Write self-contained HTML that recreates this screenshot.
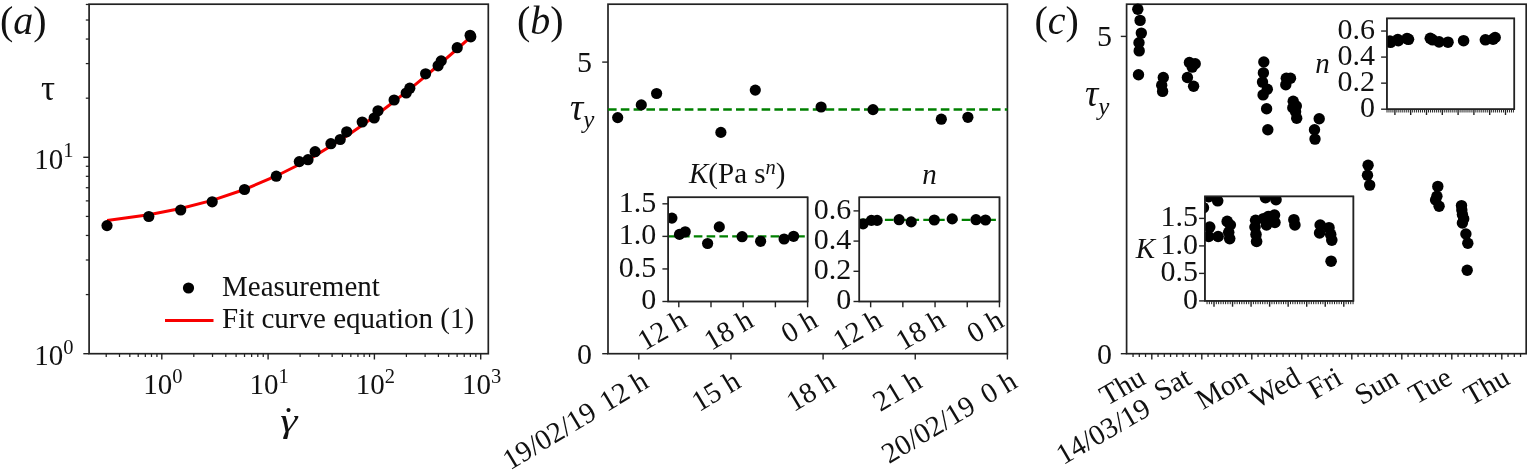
<!DOCTYPE html>
<html><head><meta charset="utf-8"><title>Figure</title>
<style>html,body{margin:0;padding:0;background:#fff}body{width:1527px;height:475px;overflow:hidden}svg{display:block}</style>
</head><body>
<svg width="1527" height="475" viewBox="0 0 1527 475" font-family='"Liberation Serif", "DejaVu Serif", serif' fill="#111">
<rect x="89.10" y="4.20" width="399.20" height="349.50" fill="none" stroke="#222222" stroke-width="1.7"/>
<line x1="106.22" y1="353.70" x2="106.22" y2="357.00" stroke="#222222" stroke-width="1.25" />
<line x1="119.50" y1="353.70" x2="119.50" y2="357.00" stroke="#222222" stroke-width="1.25" />
<line x1="129.80" y1="353.70" x2="129.80" y2="357.00" stroke="#222222" stroke-width="1.25" />
<line x1="138.22" y1="353.70" x2="138.22" y2="357.00" stroke="#222222" stroke-width="1.25" />
<line x1="145.33" y1="353.70" x2="145.33" y2="357.00" stroke="#222222" stroke-width="1.25" />
<line x1="151.50" y1="353.70" x2="151.50" y2="357.00" stroke="#222222" stroke-width="1.25" />
<line x1="156.94" y1="353.70" x2="156.94" y2="357.00" stroke="#222222" stroke-width="1.25" />
<line x1="161.80" y1="353.70" x2="161.80" y2="359.50" stroke="#222222" stroke-width="1.4" />
<line x1="193.80" y1="353.70" x2="193.80" y2="357.00" stroke="#222222" stroke-width="1.25" />
<line x1="212.52" y1="353.70" x2="212.52" y2="357.00" stroke="#222222" stroke-width="1.25" />
<line x1="225.80" y1="353.70" x2="225.80" y2="357.00" stroke="#222222" stroke-width="1.25" />
<line x1="236.10" y1="353.70" x2="236.10" y2="357.00" stroke="#222222" stroke-width="1.25" />
<line x1="244.52" y1="353.70" x2="244.52" y2="357.00" stroke="#222222" stroke-width="1.25" />
<line x1="251.63" y1="353.70" x2="251.63" y2="357.00" stroke="#222222" stroke-width="1.25" />
<line x1="257.80" y1="353.70" x2="257.80" y2="357.00" stroke="#222222" stroke-width="1.25" />
<line x1="263.24" y1="353.70" x2="263.24" y2="357.00" stroke="#222222" stroke-width="1.25" />
<line x1="268.10" y1="353.70" x2="268.10" y2="359.50" stroke="#222222" stroke-width="1.4" />
<line x1="300.10" y1="353.70" x2="300.10" y2="357.00" stroke="#222222" stroke-width="1.25" />
<line x1="318.82" y1="353.70" x2="318.82" y2="357.00" stroke="#222222" stroke-width="1.25" />
<line x1="332.10" y1="353.70" x2="332.10" y2="357.00" stroke="#222222" stroke-width="1.25" />
<line x1="342.40" y1="353.70" x2="342.40" y2="357.00" stroke="#222222" stroke-width="1.25" />
<line x1="350.82" y1="353.70" x2="350.82" y2="357.00" stroke="#222222" stroke-width="1.25" />
<line x1="357.93" y1="353.70" x2="357.93" y2="357.00" stroke="#222222" stroke-width="1.25" />
<line x1="364.10" y1="353.70" x2="364.10" y2="357.00" stroke="#222222" stroke-width="1.25" />
<line x1="369.54" y1="353.70" x2="369.54" y2="357.00" stroke="#222222" stroke-width="1.25" />
<line x1="374.40" y1="353.70" x2="374.40" y2="359.50" stroke="#222222" stroke-width="1.4" />
<line x1="406.40" y1="353.70" x2="406.40" y2="357.00" stroke="#222222" stroke-width="1.25" />
<line x1="425.12" y1="353.70" x2="425.12" y2="357.00" stroke="#222222" stroke-width="1.25" />
<line x1="438.40" y1="353.70" x2="438.40" y2="357.00" stroke="#222222" stroke-width="1.25" />
<line x1="448.70" y1="353.70" x2="448.70" y2="357.00" stroke="#222222" stroke-width="1.25" />
<line x1="457.12" y1="353.70" x2="457.12" y2="357.00" stroke="#222222" stroke-width="1.25" />
<line x1="464.23" y1="353.70" x2="464.23" y2="357.00" stroke="#222222" stroke-width="1.25" />
<line x1="470.40" y1="353.70" x2="470.40" y2="357.00" stroke="#222222" stroke-width="1.25" />
<line x1="475.84" y1="353.70" x2="475.84" y2="357.00" stroke="#222222" stroke-width="1.25" />
<line x1="480.70" y1="353.70" x2="480.70" y2="359.50" stroke="#222222" stroke-width="1.4" />
<line x1="89.10" y1="353.70" x2="83.30" y2="353.70" stroke="#222222" stroke-width="1.4" />
<line x1="89.10" y1="294.58" x2="85.80" y2="294.58" stroke="#222222" stroke-width="1.25" />
<line x1="89.10" y1="259.99" x2="85.80" y2="259.99" stroke="#222222" stroke-width="1.25" />
<line x1="89.10" y1="235.46" x2="85.80" y2="235.46" stroke="#222222" stroke-width="1.25" />
<line x1="89.10" y1="216.42" x2="85.80" y2="216.42" stroke="#222222" stroke-width="1.25" />
<line x1="89.10" y1="200.87" x2="85.80" y2="200.87" stroke="#222222" stroke-width="1.25" />
<line x1="89.10" y1="187.72" x2="85.80" y2="187.72" stroke="#222222" stroke-width="1.25" />
<line x1="89.10" y1="176.33" x2="85.80" y2="176.33" stroke="#222222" stroke-width="1.25" />
<line x1="89.10" y1="166.29" x2="85.80" y2="166.29" stroke="#222222" stroke-width="1.25" />
<line x1="89.10" y1="157.30" x2="83.30" y2="157.30" stroke="#222222" stroke-width="1.4" />
<line x1="89.10" y1="98.18" x2="85.80" y2="98.18" stroke="#222222" stroke-width="1.25" />
<line x1="89.10" y1="63.59" x2="85.80" y2="63.59" stroke="#222222" stroke-width="1.25" />
<line x1="89.10" y1="39.06" x2="85.80" y2="39.06" stroke="#222222" stroke-width="1.25" />
<line x1="89.10" y1="20.02" x2="85.80" y2="20.02" stroke="#222222" stroke-width="1.25" />
<line x1="89.10" y1="4.47" x2="85.80" y2="4.47" stroke="#222222" stroke-width="1.25" />
<text x="162.80" y="394.30" font-size="29" text-anchor="middle">10<tspan font-size="20.5" dy="-11.2">0</tspan></text>
<text x="269.10" y="394.30" font-size="29" text-anchor="middle">10<tspan font-size="20.5" dy="-11.2">1</tspan></text>
<text x="375.40" y="394.30" font-size="29" text-anchor="middle">10<tspan font-size="20.5" dy="-11.2">2</tspan></text>
<text x="481.70" y="394.30" font-size="29" text-anchor="middle">10<tspan font-size="20.5" dy="-11.2">3</tspan></text>
<text x="73.50" y="168.60" font-size="29" text-anchor="end">10<tspan font-size="20.5" dy="-11.2">1</tspan></text>
<text x="73.50" y="365.00" font-size="29" text-anchor="end">10<tspan font-size="20.5" dy="-11.2">0</tspan></text>
<polyline fill="none" stroke="#f80000" stroke-width="3" points="107.1,220.4 148.8,214.7 180.7,208.5 212.2,200.4 244.5,189.5 276.3,176.0 299.3,164.5 308.0,159.7 315.1,155.6 330.9,146.1 340.2,140.1 346.7,135.9 362.2,125.2 374.2,116.5 378.0,113.7 394.1,101.5 406.2,91.9 409.8,89.1 425.6,76.1 438.1,65.5 441.2,62.9 457.2,49.0 470.5,37.2"/>
<circle cx="107.00" cy="225.60" r="5.6" fill="#000"/>
<circle cx="148.80" cy="216.50" r="5.6" fill="#000"/>
<circle cx="180.70" cy="210.00" r="5.6" fill="#000"/>
<circle cx="212.20" cy="201.80" r="5.6" fill="#000"/>
<circle cx="244.50" cy="189.50" r="5.6" fill="#000"/>
<circle cx="276.30" cy="176.20" r="5.6" fill="#000"/>
<circle cx="299.30" cy="161.60" r="5.6" fill="#000"/>
<circle cx="308.00" cy="159.70" r="5.6" fill="#000"/>
<circle cx="315.10" cy="151.70" r="5.6" fill="#000"/>
<circle cx="330.90" cy="143.70" r="5.6" fill="#000"/>
<circle cx="340.20" cy="139.50" r="5.6" fill="#000"/>
<circle cx="346.70" cy="131.80" r="5.6" fill="#000"/>
<circle cx="362.20" cy="122.00" r="5.6" fill="#000"/>
<circle cx="374.20" cy="118.00" r="5.6" fill="#000"/>
<circle cx="378.00" cy="110.80" r="5.6" fill="#000"/>
<circle cx="394.10" cy="100.00" r="5.6" fill="#000"/>
<circle cx="406.20" cy="93.00" r="5.6" fill="#000"/>
<circle cx="409.80" cy="88.20" r="5.6" fill="#000"/>
<circle cx="425.60" cy="73.80" r="5.6" fill="#000"/>
<circle cx="438.10" cy="65.80" r="5.6" fill="#000"/>
<circle cx="441.20" cy="60.90" r="5.6" fill="#000"/>
<circle cx="457.20" cy="47.70" r="5.6" fill="#000"/>
<circle cx="470.10" cy="35.30" r="5.6" fill="#000"/>
<circle cx="470.80" cy="36.80" r="5.6" fill="#000"/>
<text x="0.00" y="33.50" font-size="40" text-anchor="start" >(<tspan font-style="italic">a</tspan>)</text>
<text x="48.00" y="100.00" font-size="35" text-anchor="middle" >τ</text>
<text transform="translate(288.7 431.5) scale(1.28 1)" x="0" y="0" font-size="34" text-anchor="middle" font-style="italic">γ</text>
<text x="288.60" y="412.00" font-size="34" text-anchor="middle" >.</text>
<circle cx="188.50" cy="288.00" r="5.6" fill="#000"/>
<line x1="165.00" y1="320.50" x2="213.50" y2="320.50" stroke="#f80000" stroke-width="3" />
<text x="222.00" y="295.60" font-size="29" text-anchor="start" >Measurement</text>
<text x="222.00" y="328.00" font-size="29" text-anchor="start" >Fit curve equation (1)</text>
<rect x="608.00" y="4.20" width="399.40" height="349.50" fill="none" stroke="#222222" stroke-width="1.7"/>
<line x1="638.80" y1="353.70" x2="638.80" y2="359.50" stroke="#222222" stroke-width="1.4" />
<text x="650.30" y="386.20" font-size="29" text-anchor="end" transform="rotate(-31 650.30 386.20)" >19/02/19 <tspan dx="2.5">12 h</tspan></text>
<line x1="730.95" y1="353.70" x2="730.95" y2="359.50" stroke="#222222" stroke-width="1.4" />
<text x="742.45" y="386.20" font-size="29" text-anchor="end" transform="rotate(-31 742.45 386.20)" >15 h</text>
<line x1="823.10" y1="353.70" x2="823.10" y2="359.50" stroke="#222222" stroke-width="1.4" />
<text x="837.30" y="386.20" font-size="29" text-anchor="end" transform="rotate(-31 837.30 386.20)" >18 h</text>
<line x1="915.25" y1="353.70" x2="915.25" y2="359.50" stroke="#222222" stroke-width="1.4" />
<text x="923.75" y="386.20" font-size="29" text-anchor="end" transform="rotate(-31 923.75 386.20)" >21 h</text>
<line x1="1007.40" y1="353.70" x2="1007.40" y2="359.50" stroke="#222222" stroke-width="1.4" />
<text x="1018.90" y="386.20" font-size="29" text-anchor="end" transform="rotate(-31 1018.90 386.20)" >20/02/19 <tspan dx="4.8">0 h</tspan></text>
<line x1="608.00" y1="353.70" x2="602.20" y2="353.70" stroke="#222222" stroke-width="1.4" />
<text x="592.00" y="363.60" font-size="30" text-anchor="end" >0</text>
<line x1="608.00" y1="62.10" x2="602.20" y2="62.10" stroke="#222222" stroke-width="1.4" />
<text x="592.00" y="72.00" font-size="30" text-anchor="end" >5</text>
<line x1="608.00" y1="109.50" x2="1007.40" y2="109.50" stroke="#008000" stroke-width="2.45" stroke-dasharray="8.6 4.2"/>
<circle cx="617.70" cy="117.60" r="5.6" fill="#000"/>
<circle cx="641.30" cy="104.90" r="5.6" fill="#000"/>
<circle cx="656.60" cy="93.50" r="5.6" fill="#000"/>
<circle cx="720.90" cy="132.40" r="5.6" fill="#000"/>
<circle cx="755.30" cy="90.10" r="5.6" fill="#000"/>
<circle cx="821.10" cy="107.00" r="5.6" fill="#000"/>
<circle cx="873.00" cy="109.60" r="5.6" fill="#000"/>
<circle cx="941.30" cy="119.20" r="5.6" fill="#000"/>
<circle cx="967.90" cy="117.30" r="5.6" fill="#000"/>
<text x="517.00" y="33.50" font-size="40" text-anchor="start" >(<tspan font-style="italic">b</tspan>)</text>
<text x="570" y="119.5" font-size="37" font-style="italic">τ<tspan font-size="25" dy="8.5">y</tspan></text>
<rect x="668.20" y="197.30" width="139.40" height="104.20" fill="#fff" stroke="#222222" stroke-width="1.5"/>
<line x1="668.20" y1="301.50" x2="662.40" y2="301.50" stroke="#222222" stroke-width="1.4" />
<text x="656.20" y="309.30" font-size="30" text-anchor="end" >0</text>
<line x1="668.20" y1="268.94" x2="662.40" y2="268.94" stroke="#222222" stroke-width="1.4" />
<text x="656.20" y="276.74" font-size="30" text-anchor="end" >0.5</text>
<line x1="668.20" y1="236.38" x2="662.40" y2="236.38" stroke="#222222" stroke-width="1.4" />
<text x="656.20" y="244.18" font-size="30" text-anchor="end" >1.0</text>
<line x1="668.20" y1="203.81" x2="662.40" y2="203.81" stroke="#222222" stroke-width="1.4" />
<text x="656.20" y="211.61" font-size="30" text-anchor="end" >1.5</text>
<line x1="678.80" y1="301.50" x2="678.80" y2="307.30" stroke="#222222" stroke-width="1.4" />
<text x="688.80" y="325.50" font-size="29" text-anchor="end" transform="rotate(-30 688.80 325.50)" >12 h</text>
<line x1="711.00" y1="301.50" x2="711.00" y2="307.30" stroke="#222222" stroke-width="1.4" />
<line x1="743.20" y1="301.50" x2="743.20" y2="307.30" stroke="#222222" stroke-width="1.4" />
<text x="755.20" y="325.50" font-size="29" text-anchor="end" transform="rotate(-30 755.20 325.50)" >18 h</text>
<line x1="775.40" y1="301.50" x2="775.40" y2="307.30" stroke="#222222" stroke-width="1.4" />
<line x1="807.60" y1="301.50" x2="807.60" y2="307.30" stroke="#222222" stroke-width="1.4" />
<text x="819.60" y="325.50" font-size="29" text-anchor="end" transform="rotate(-30 819.60 325.50)" >0 h</text>
<line x1="668.20" y1="236.38" x2="807.60" y2="236.38" stroke="#008000" stroke-width="2.3" stroke-dasharray="8.6 4.2"/>
<clipPath id="cp668"><rect x="668.2" y="197.3" width="139.39999999999998" height="104.19999999999999"/></clipPath>
<g clip-path="url(#cp668)">
<circle cx="671.90" cy="218.10" r="5.6" fill="#000"/>
<circle cx="679.50" cy="234.40" r="5.6" fill="#000"/>
<circle cx="685.20" cy="231.80" r="5.6" fill="#000"/>
<circle cx="707.60" cy="243.50" r="5.6" fill="#000"/>
<circle cx="719.30" cy="226.90" r="5.6" fill="#000"/>
<circle cx="742.10" cy="236.70" r="5.6" fill="#000"/>
<circle cx="760.60" cy="241.30" r="5.6" fill="#000"/>
<circle cx="784.10" cy="239.00" r="5.6" fill="#000"/>
<circle cx="793.60" cy="236.30" r="5.6" fill="#000"/>
</g>
<rect x="668.20" y="197.30" width="139.40" height="104.20" fill="none" stroke="#222222" stroke-width="1.5"/>
<text x="689" y="183" font-size="29"><tspan font-style="italic">K</tspan>(Pa s<tspan font-size="20.5" dy="-9.5" font-style="italic">n</tspan><tspan dy="9.5">)</tspan></text>
<rect x="859.30" y="197.30" width="140.20" height="104.20" fill="#fff" stroke="#222222" stroke-width="1.5"/>
<line x1="859.30" y1="301.50" x2="853.50" y2="301.50" stroke="#222222" stroke-width="1.4" />
<text x="851.30" y="309.30" font-size="30" text-anchor="end" >0</text>
<line x1="859.30" y1="271.30" x2="853.50" y2="271.30" stroke="#222222" stroke-width="1.4" />
<text x="851.30" y="279.10" font-size="30" text-anchor="end" >0.2</text>
<line x1="859.30" y1="241.09" x2="853.50" y2="241.09" stroke="#222222" stroke-width="1.4" />
<text x="851.30" y="248.89" font-size="30" text-anchor="end" >0.4</text>
<line x1="859.30" y1="210.89" x2="853.50" y2="210.89" stroke="#222222" stroke-width="1.4" />
<text x="851.30" y="218.69" font-size="30" text-anchor="end" >0.6</text>
<line x1="870.65" y1="301.50" x2="870.65" y2="307.30" stroke="#222222" stroke-width="1.4" />
<text x="884.15" y="325.50" font-size="29" text-anchor="end" transform="rotate(-30 884.15 325.50)" >12 h</text>
<line x1="902.85" y1="301.50" x2="902.85" y2="307.30" stroke="#222222" stroke-width="1.4" />
<line x1="935.05" y1="301.50" x2="935.05" y2="307.30" stroke="#222222" stroke-width="1.4" />
<text x="947.05" y="325.50" font-size="29" text-anchor="end" transform="rotate(-30 947.05 325.50)" >18 h</text>
<line x1="967.25" y1="301.50" x2="967.25" y2="307.30" stroke="#222222" stroke-width="1.4" />
<line x1="999.45" y1="301.50" x2="999.45" y2="307.30" stroke="#222222" stroke-width="1.4" />
<text x="1005.45" y="325.50" font-size="29" text-anchor="end" transform="rotate(-30 1005.45 325.50)" >0 h</text>
<line x1="859.30" y1="219.95" x2="999.50" y2="219.95" stroke="#008000" stroke-width="2.3" stroke-dasharray="8.6 4.2"/>
<clipPath id="cp859"><rect x="859.3" y="197.3" width="140.20000000000005" height="104.19999999999999"/></clipPath>
<g clip-path="url(#cp859)">
<circle cx="863.10" cy="223.80" r="5.6" fill="#000"/>
<circle cx="871.40" cy="220.40" r="5.6" fill="#000"/>
<circle cx="877.10" cy="220.40" r="5.6" fill="#000"/>
<circle cx="899.10" cy="219.70" r="5.6" fill="#000"/>
<circle cx="911.20" cy="221.90" r="5.6" fill="#000"/>
<circle cx="934.30" cy="220.00" r="5.6" fill="#000"/>
<circle cx="952.20" cy="218.90" r="5.6" fill="#000"/>
<circle cx="976.00" cy="219.70" r="5.6" fill="#000"/>
<circle cx="985.50" cy="220.00" r="5.6" fill="#000"/>
</g>
<rect x="859.30" y="197.30" width="140.20" height="104.20" fill="none" stroke="#222222" stroke-width="1.5"/>
<text x="929.40" y="184.00" font-size="29" text-anchor="middle" font-style="italic" >n</text>
<rect x="1126.60" y="4.20" width="399.60" height="349.50" fill="none" stroke="#222222" stroke-width="1.7"/>
<line x1="1126.60" y1="353.70" x2="1120.80" y2="353.70" stroke="#222222" stroke-width="1.4" />
<text x="1112.10" y="363.60" font-size="30" text-anchor="end" >0</text>
<line x1="1126.60" y1="36.40" x2="1120.80" y2="36.40" stroke="#222222" stroke-width="1.4" />
<text x="1112.10" y="46.30" font-size="30" text-anchor="end" >5</text>
<line x1="1133.05" y1="353.70" x2="1133.05" y2="357.00" stroke="#222222" stroke-width="1.25" />
<line x1="1139.30" y1="353.70" x2="1139.30" y2="357.00" stroke="#222222" stroke-width="1.25" />
<line x1="1145.55" y1="353.70" x2="1145.55" y2="357.00" stroke="#222222" stroke-width="1.25" />
<line x1="1151.80" y1="353.70" x2="1151.80" y2="359.50" stroke="#222222" stroke-width="1.4" />
<line x1="1158.05" y1="353.70" x2="1158.05" y2="357.00" stroke="#222222" stroke-width="1.25" />
<line x1="1164.30" y1="353.70" x2="1164.30" y2="357.00" stroke="#222222" stroke-width="1.25" />
<line x1="1170.55" y1="353.70" x2="1170.55" y2="357.00" stroke="#222222" stroke-width="1.25" />
<line x1="1176.80" y1="353.70" x2="1176.80" y2="357.00" stroke="#222222" stroke-width="1.25" />
<line x1="1183.05" y1="353.70" x2="1183.05" y2="357.00" stroke="#222222" stroke-width="1.25" />
<line x1="1189.30" y1="353.70" x2="1189.30" y2="357.00" stroke="#222222" stroke-width="1.25" />
<line x1="1195.55" y1="353.70" x2="1195.55" y2="357.00" stroke="#222222" stroke-width="1.25" />
<line x1="1201.80" y1="353.70" x2="1201.80" y2="359.50" stroke="#222222" stroke-width="1.4" />
<line x1="1208.05" y1="353.70" x2="1208.05" y2="357.00" stroke="#222222" stroke-width="1.25" />
<line x1="1214.30" y1="353.70" x2="1214.30" y2="357.00" stroke="#222222" stroke-width="1.25" />
<line x1="1220.55" y1="353.70" x2="1220.55" y2="357.00" stroke="#222222" stroke-width="1.25" />
<line x1="1226.80" y1="353.70" x2="1226.80" y2="357.00" stroke="#222222" stroke-width="1.25" />
<line x1="1233.05" y1="353.70" x2="1233.05" y2="357.00" stroke="#222222" stroke-width="1.25" />
<line x1="1239.30" y1="353.70" x2="1239.30" y2="357.00" stroke="#222222" stroke-width="1.25" />
<line x1="1245.55" y1="353.70" x2="1245.55" y2="357.00" stroke="#222222" stroke-width="1.25" />
<line x1="1251.80" y1="353.70" x2="1251.80" y2="359.50" stroke="#222222" stroke-width="1.4" />
<line x1="1258.05" y1="353.70" x2="1258.05" y2="357.00" stroke="#222222" stroke-width="1.25" />
<line x1="1264.30" y1="353.70" x2="1264.30" y2="357.00" stroke="#222222" stroke-width="1.25" />
<line x1="1270.55" y1="353.70" x2="1270.55" y2="357.00" stroke="#222222" stroke-width="1.25" />
<line x1="1276.80" y1="353.70" x2="1276.80" y2="357.00" stroke="#222222" stroke-width="1.25" />
<line x1="1283.05" y1="353.70" x2="1283.05" y2="357.00" stroke="#222222" stroke-width="1.25" />
<line x1="1289.30" y1="353.70" x2="1289.30" y2="357.00" stroke="#222222" stroke-width="1.25" />
<line x1="1295.55" y1="353.70" x2="1295.55" y2="357.00" stroke="#222222" stroke-width="1.25" />
<line x1="1301.80" y1="353.70" x2="1301.80" y2="359.50" stroke="#222222" stroke-width="1.4" />
<line x1="1308.05" y1="353.70" x2="1308.05" y2="357.00" stroke="#222222" stroke-width="1.25" />
<line x1="1314.30" y1="353.70" x2="1314.30" y2="357.00" stroke="#222222" stroke-width="1.25" />
<line x1="1320.55" y1="353.70" x2="1320.55" y2="357.00" stroke="#222222" stroke-width="1.25" />
<line x1="1326.80" y1="353.70" x2="1326.80" y2="357.00" stroke="#222222" stroke-width="1.25" />
<line x1="1333.05" y1="353.70" x2="1333.05" y2="357.00" stroke="#222222" stroke-width="1.25" />
<line x1="1339.30" y1="353.70" x2="1339.30" y2="357.00" stroke="#222222" stroke-width="1.25" />
<line x1="1345.55" y1="353.70" x2="1345.55" y2="357.00" stroke="#222222" stroke-width="1.25" />
<line x1="1351.80" y1="353.70" x2="1351.80" y2="359.50" stroke="#222222" stroke-width="1.4" />
<line x1="1358.05" y1="353.70" x2="1358.05" y2="357.00" stroke="#222222" stroke-width="1.25" />
<line x1="1364.30" y1="353.70" x2="1364.30" y2="357.00" stroke="#222222" stroke-width="1.25" />
<line x1="1370.55" y1="353.70" x2="1370.55" y2="357.00" stroke="#222222" stroke-width="1.25" />
<line x1="1376.80" y1="353.70" x2="1376.80" y2="357.00" stroke="#222222" stroke-width="1.25" />
<line x1="1383.05" y1="353.70" x2="1383.05" y2="357.00" stroke="#222222" stroke-width="1.25" />
<line x1="1389.30" y1="353.70" x2="1389.30" y2="357.00" stroke="#222222" stroke-width="1.25" />
<line x1="1395.55" y1="353.70" x2="1395.55" y2="357.00" stroke="#222222" stroke-width="1.25" />
<line x1="1401.80" y1="353.70" x2="1401.80" y2="359.50" stroke="#222222" stroke-width="1.4" />
<line x1="1408.05" y1="353.70" x2="1408.05" y2="357.00" stroke="#222222" stroke-width="1.25" />
<line x1="1414.30" y1="353.70" x2="1414.30" y2="357.00" stroke="#222222" stroke-width="1.25" />
<line x1="1420.55" y1="353.70" x2="1420.55" y2="357.00" stroke="#222222" stroke-width="1.25" />
<line x1="1426.80" y1="353.70" x2="1426.80" y2="357.00" stroke="#222222" stroke-width="1.25" />
<line x1="1433.05" y1="353.70" x2="1433.05" y2="357.00" stroke="#222222" stroke-width="1.25" />
<line x1="1439.30" y1="353.70" x2="1439.30" y2="357.00" stroke="#222222" stroke-width="1.25" />
<line x1="1445.55" y1="353.70" x2="1445.55" y2="357.00" stroke="#222222" stroke-width="1.25" />
<line x1="1451.80" y1="353.70" x2="1451.80" y2="359.50" stroke="#222222" stroke-width="1.4" />
<line x1="1458.05" y1="353.70" x2="1458.05" y2="357.00" stroke="#222222" stroke-width="1.25" />
<line x1="1464.30" y1="353.70" x2="1464.30" y2="357.00" stroke="#222222" stroke-width="1.25" />
<line x1="1470.55" y1="353.70" x2="1470.55" y2="357.00" stroke="#222222" stroke-width="1.25" />
<line x1="1476.80" y1="353.70" x2="1476.80" y2="357.00" stroke="#222222" stroke-width="1.25" />
<line x1="1483.05" y1="353.70" x2="1483.05" y2="357.00" stroke="#222222" stroke-width="1.25" />
<line x1="1489.30" y1="353.70" x2="1489.30" y2="357.00" stroke="#222222" stroke-width="1.25" />
<line x1="1495.55" y1="353.70" x2="1495.55" y2="357.00" stroke="#222222" stroke-width="1.25" />
<line x1="1501.80" y1="353.70" x2="1501.80" y2="359.50" stroke="#222222" stroke-width="1.4" />
<line x1="1508.05" y1="353.70" x2="1508.05" y2="357.00" stroke="#222222" stroke-width="1.25" />
<line x1="1514.30" y1="353.70" x2="1514.30" y2="357.00" stroke="#222222" stroke-width="1.25" />
<line x1="1520.55" y1="353.70" x2="1520.55" y2="357.00" stroke="#222222" stroke-width="1.25" />
<text x="1127.10" y="394.58" font-size="29" text-anchor="middle" transform="rotate(-30 1127.10 394.58)" >Thu</text>
<text x="1177.10" y="392.16" font-size="29" text-anchor="middle" transform="rotate(-30 1177.10 392.16)" >Sat</text>
<text x="1226.60" y="396.59" font-size="29" text-anchor="middle" transform="rotate(-30 1226.60 396.59)" >Mon</text>
<text x="1279.80" y="396.00" font-size="29" text-anchor="middle" transform="rotate(-30 1279.80 396.00)" >Wed</text>
<text x="1329.40" y="391.36" font-size="29" text-anchor="middle" transform="rotate(-30 1329.40 391.36)" >Fri</text>
<text x="1381.20" y="394.18" font-size="29" text-anchor="middle" transform="rotate(-30 1381.20 394.18)" >Sun</text>
<text x="1434.90" y="393.92" font-size="29" text-anchor="middle" transform="rotate(-30 1434.90 393.92)" >Tue</text>
<text x="1491.30" y="394.58" font-size="29" text-anchor="middle" transform="rotate(-30 1491.30 394.58)" >Thu</text>
<text x="1152.50" y="413.70" font-size="29" text-anchor="end" transform="rotate(-30 1152.50 413.70)" >14/03/19</text>
<text x="1034.50" y="33.50" font-size="40" text-anchor="start" >(<tspan font-style="italic">c</tspan>)</text>
<text x="1085" y="106" font-size="37" font-style="italic">τ<tspan font-size="25" dy="8.5">y</tspan></text>
<circle cx="1137.80" cy="9.30" r="5.7" fill="#000"/>
<circle cx="1140.10" cy="20.40" r="5.7" fill="#000"/>
<circle cx="1141.30" cy="33.10" r="5.7" fill="#000"/>
<circle cx="1139.00" cy="42.80" r="5.7" fill="#000"/>
<circle cx="1139.20" cy="50.90" r="5.7" fill="#000"/>
<circle cx="1138.50" cy="74.80" r="5.7" fill="#000"/>
<circle cx="1163.30" cy="77.50" r="5.7" fill="#000"/>
<circle cx="1161.70" cy="85.20" r="5.7" fill="#000"/>
<circle cx="1162.60" cy="91.40" r="5.7" fill="#000"/>
<circle cx="1189.40" cy="62.50" r="5.7" fill="#000"/>
<circle cx="1195.20" cy="63.70" r="5.7" fill="#000"/>
<circle cx="1192.20" cy="67.10" r="5.7" fill="#000"/>
<circle cx="1187.40" cy="77.50" r="5.7" fill="#000"/>
<circle cx="1193.60" cy="86.30" r="5.7" fill="#000"/>
<circle cx="1263.80" cy="62.00" r="5.7" fill="#000"/>
<circle cx="1263.40" cy="72.90" r="5.7" fill="#000"/>
<circle cx="1262.50" cy="82.10" r="5.7" fill="#000"/>
<circle cx="1267.30" cy="89.30" r="5.7" fill="#000"/>
<circle cx="1263.10" cy="94.90" r="5.7" fill="#000"/>
<circle cx="1266.60" cy="108.80" r="5.7" fill="#000"/>
<circle cx="1267.80" cy="129.80" r="5.7" fill="#000"/>
<circle cx="1286.30" cy="78.20" r="5.7" fill="#000"/>
<circle cx="1290.50" cy="78.20" r="5.7" fill="#000"/>
<circle cx="1285.80" cy="84.70" r="5.7" fill="#000"/>
<circle cx="1293.20" cy="101.30" r="5.7" fill="#000"/>
<circle cx="1296.30" cy="106.00" r="5.7" fill="#000"/>
<circle cx="1292.80" cy="107.80" r="5.7" fill="#000"/>
<circle cx="1295.60" cy="111.80" r="5.7" fill="#000"/>
<circle cx="1296.70" cy="118.20" r="5.7" fill="#000"/>
<circle cx="1319.20" cy="118.70" r="5.7" fill="#000"/>
<circle cx="1314.50" cy="129.80" r="5.7" fill="#000"/>
<circle cx="1315.00" cy="139.10" r="5.7" fill="#000"/>
<circle cx="1368.10" cy="165.20" r="5.7" fill="#000"/>
<circle cx="1367.50" cy="175.30" r="5.7" fill="#000"/>
<circle cx="1369.70" cy="185.10" r="5.7" fill="#000"/>
<circle cx="1437.80" cy="186.40" r="5.7" fill="#000"/>
<circle cx="1436.90" cy="196.20" r="5.7" fill="#000"/>
<circle cx="1435.60" cy="200.00" r="5.7" fill="#000"/>
<circle cx="1439.10" cy="206.30" r="5.7" fill="#000"/>
<circle cx="1461.50" cy="205.60" r="5.7" fill="#000"/>
<circle cx="1461.80" cy="210.10" r="5.7" fill="#000"/>
<circle cx="1462.40" cy="214.50" r="5.7" fill="#000"/>
<circle cx="1463.70" cy="218.90" r="5.7" fill="#000"/>
<circle cx="1462.40" cy="223.00" r="5.7" fill="#000"/>
<circle cx="1465.90" cy="234.00" r="5.7" fill="#000"/>
<circle cx="1467.80" cy="243.20" r="5.7" fill="#000"/>
<circle cx="1467.20" cy="270.30" r="5.7" fill="#000"/>
<rect x="1386.90" y="18.40" width="127.40" height="90.80" fill="#fff" stroke="#222222" stroke-width="1.5"/>
<clipPath id="cp1386"><rect x="1386.9" y="18.4" width="127.39999999999986" height="90.80000000000001"/></clipPath>
<line x1="1386.90" y1="109.20" x2="1381.10" y2="109.20" stroke="#222222" stroke-width="1.4" />
<text x="1374.90" y="116.80" font-size="30" text-anchor="end" >0</text>
<line x1="1386.90" y1="83.15" x2="1381.10" y2="83.15" stroke="#222222" stroke-width="1.4" />
<text x="1374.90" y="90.75" font-size="30" text-anchor="end" >0.2</text>
<line x1="1386.90" y1="57.09" x2="1381.10" y2="57.09" stroke="#222222" stroke-width="1.4" />
<text x="1374.90" y="64.69" font-size="30" text-anchor="end" >0.4</text>
<line x1="1386.90" y1="31.04" x2="1381.10" y2="31.04" stroke="#222222" stroke-width="1.4" />
<text x="1374.90" y="38.64" font-size="30" text-anchor="end" >0.6</text>
<line x1="1387.00" y1="109.20" x2="1387.00" y2="112.50" stroke="#222222" stroke-width="1" />
<line x1="1388.98" y1="109.20" x2="1388.98" y2="112.50" stroke="#222222" stroke-width="1" />
<line x1="1390.95" y1="109.20" x2="1390.95" y2="112.50" stroke="#222222" stroke-width="1" />
<line x1="1392.93" y1="109.20" x2="1392.93" y2="112.50" stroke="#222222" stroke-width="1" />
<line x1="1394.90" y1="109.20" x2="1394.90" y2="115.00" stroke="#222222" stroke-width="1.4" />
<line x1="1396.88" y1="109.20" x2="1396.88" y2="112.50" stroke="#222222" stroke-width="1" />
<line x1="1398.85" y1="109.20" x2="1398.85" y2="112.50" stroke="#222222" stroke-width="1" />
<line x1="1400.83" y1="109.20" x2="1400.83" y2="112.50" stroke="#222222" stroke-width="1" />
<line x1="1402.80" y1="109.20" x2="1402.80" y2="112.50" stroke="#222222" stroke-width="1" />
<line x1="1404.78" y1="109.20" x2="1404.78" y2="112.50" stroke="#222222" stroke-width="1" />
<line x1="1406.75" y1="109.20" x2="1406.75" y2="112.50" stroke="#222222" stroke-width="1" />
<line x1="1408.73" y1="109.20" x2="1408.73" y2="112.50" stroke="#222222" stroke-width="1" />
<line x1="1410.70" y1="109.20" x2="1410.70" y2="115.00" stroke="#222222" stroke-width="1.4" />
<line x1="1412.68" y1="109.20" x2="1412.68" y2="112.50" stroke="#222222" stroke-width="1" />
<line x1="1414.65" y1="109.20" x2="1414.65" y2="112.50" stroke="#222222" stroke-width="1" />
<line x1="1416.62" y1="109.20" x2="1416.62" y2="112.50" stroke="#222222" stroke-width="1" />
<line x1="1418.60" y1="109.20" x2="1418.60" y2="112.50" stroke="#222222" stroke-width="1" />
<line x1="1420.58" y1="109.20" x2="1420.58" y2="112.50" stroke="#222222" stroke-width="1" />
<line x1="1422.55" y1="109.20" x2="1422.55" y2="112.50" stroke="#222222" stroke-width="1" />
<line x1="1424.53" y1="109.20" x2="1424.53" y2="112.50" stroke="#222222" stroke-width="1" />
<line x1="1426.50" y1="109.20" x2="1426.50" y2="115.00" stroke="#222222" stroke-width="1.4" />
<line x1="1428.48" y1="109.20" x2="1428.48" y2="112.50" stroke="#222222" stroke-width="1" />
<line x1="1430.45" y1="109.20" x2="1430.45" y2="112.50" stroke="#222222" stroke-width="1" />
<line x1="1432.43" y1="109.20" x2="1432.43" y2="112.50" stroke="#222222" stroke-width="1" />
<line x1="1434.40" y1="109.20" x2="1434.40" y2="112.50" stroke="#222222" stroke-width="1" />
<line x1="1436.38" y1="109.20" x2="1436.38" y2="112.50" stroke="#222222" stroke-width="1" />
<line x1="1438.35" y1="109.20" x2="1438.35" y2="112.50" stroke="#222222" stroke-width="1" />
<line x1="1440.33" y1="109.20" x2="1440.33" y2="112.50" stroke="#222222" stroke-width="1" />
<line x1="1442.30" y1="109.20" x2="1442.30" y2="115.00" stroke="#222222" stroke-width="1.4" />
<line x1="1444.28" y1="109.20" x2="1444.28" y2="112.50" stroke="#222222" stroke-width="1" />
<line x1="1446.25" y1="109.20" x2="1446.25" y2="112.50" stroke="#222222" stroke-width="1" />
<line x1="1448.23" y1="109.20" x2="1448.23" y2="112.50" stroke="#222222" stroke-width="1" />
<line x1="1450.20" y1="109.20" x2="1450.20" y2="112.50" stroke="#222222" stroke-width="1" />
<line x1="1452.18" y1="109.20" x2="1452.18" y2="112.50" stroke="#222222" stroke-width="1" />
<line x1="1454.15" y1="109.20" x2="1454.15" y2="112.50" stroke="#222222" stroke-width="1" />
<line x1="1456.12" y1="109.20" x2="1456.12" y2="112.50" stroke="#222222" stroke-width="1" />
<line x1="1458.10" y1="109.20" x2="1458.10" y2="115.00" stroke="#222222" stroke-width="1.4" />
<line x1="1460.08" y1="109.20" x2="1460.08" y2="112.50" stroke="#222222" stroke-width="1" />
<line x1="1462.05" y1="109.20" x2="1462.05" y2="112.50" stroke="#222222" stroke-width="1" />
<line x1="1464.03" y1="109.20" x2="1464.03" y2="112.50" stroke="#222222" stroke-width="1" />
<line x1="1466.00" y1="109.20" x2="1466.00" y2="112.50" stroke="#222222" stroke-width="1" />
<line x1="1467.98" y1="109.20" x2="1467.98" y2="112.50" stroke="#222222" stroke-width="1" />
<line x1="1469.95" y1="109.20" x2="1469.95" y2="112.50" stroke="#222222" stroke-width="1" />
<line x1="1471.93" y1="109.20" x2="1471.93" y2="112.50" stroke="#222222" stroke-width="1" />
<line x1="1473.90" y1="109.20" x2="1473.90" y2="115.00" stroke="#222222" stroke-width="1.4" />
<line x1="1475.88" y1="109.20" x2="1475.88" y2="112.50" stroke="#222222" stroke-width="1" />
<line x1="1477.85" y1="109.20" x2="1477.85" y2="112.50" stroke="#222222" stroke-width="1" />
<line x1="1479.83" y1="109.20" x2="1479.83" y2="112.50" stroke="#222222" stroke-width="1" />
<line x1="1481.80" y1="109.20" x2="1481.80" y2="112.50" stroke="#222222" stroke-width="1" />
<line x1="1483.78" y1="109.20" x2="1483.78" y2="112.50" stroke="#222222" stroke-width="1" />
<line x1="1485.75" y1="109.20" x2="1485.75" y2="112.50" stroke="#222222" stroke-width="1" />
<line x1="1487.73" y1="109.20" x2="1487.73" y2="112.50" stroke="#222222" stroke-width="1" />
<line x1="1489.70" y1="109.20" x2="1489.70" y2="115.00" stroke="#222222" stroke-width="1.4" />
<line x1="1491.68" y1="109.20" x2="1491.68" y2="112.50" stroke="#222222" stroke-width="1" />
<line x1="1493.65" y1="109.20" x2="1493.65" y2="112.50" stroke="#222222" stroke-width="1" />
<line x1="1495.62" y1="109.20" x2="1495.62" y2="112.50" stroke="#222222" stroke-width="1" />
<line x1="1497.60" y1="109.20" x2="1497.60" y2="112.50" stroke="#222222" stroke-width="1" />
<line x1="1499.58" y1="109.20" x2="1499.58" y2="112.50" stroke="#222222" stroke-width="1" />
<line x1="1501.55" y1="109.20" x2="1501.55" y2="112.50" stroke="#222222" stroke-width="1" />
<line x1="1503.53" y1="109.20" x2="1503.53" y2="112.50" stroke="#222222" stroke-width="1" />
<line x1="1505.50" y1="109.20" x2="1505.50" y2="115.00" stroke="#222222" stroke-width="1.4" />
<line x1="1507.48" y1="109.20" x2="1507.48" y2="112.50" stroke="#222222" stroke-width="1" />
<line x1="1509.45" y1="109.20" x2="1509.45" y2="112.50" stroke="#222222" stroke-width="1" />
<line x1="1511.43" y1="109.20" x2="1511.43" y2="112.50" stroke="#222222" stroke-width="1" />
<line x1="1513.40" y1="109.20" x2="1513.40" y2="112.50" stroke="#222222" stroke-width="1" />
<g clip-path="url(#cp1386)">
<circle cx="1389.90" cy="41.00" r="5.8" fill="#000"/>
<circle cx="1390.50" cy="42.30" r="5.8" fill="#000"/>
<circle cx="1397.80" cy="39.60" r="5.8" fill="#000"/>
<circle cx="1398.30" cy="40.60" r="5.8" fill="#000"/>
<circle cx="1407.00" cy="38.60" r="5.8" fill="#000"/>
<circle cx="1408.50" cy="39.30" r="5.8" fill="#000"/>
<circle cx="1430.30" cy="38.30" r="5.8" fill="#000"/>
<circle cx="1432.60" cy="39.80" r="5.8" fill="#000"/>
<circle cx="1439.10" cy="41.90" r="5.8" fill="#000"/>
<circle cx="1448.00" cy="42.20" r="5.8" fill="#000"/>
<circle cx="1463.60" cy="40.70" r="5.8" fill="#000"/>
<circle cx="1485.40" cy="39.80" r="5.8" fill="#000"/>
<circle cx="1493.10" cy="39.20" r="5.8" fill="#000"/>
<circle cx="1495.10" cy="37.50" r="5.8" fill="#000"/>
</g>
<rect x="1386.90" y="18.40" width="127.40" height="90.80" fill="none" stroke="#222222" stroke-width="1.5"/>
<text x="1322.50" y="73.00" font-size="29" text-anchor="middle" font-style="italic" >n</text>
<rect x="1204.90" y="196.40" width="148.50" height="104.50" fill="#fff" stroke="#222222" stroke-width="1.5"/>
<clipPath id="cp1204"><rect x="1204.9" y="196.4" width="148.5" height="104.49999999999997"/></clipPath>
<line x1="1204.90" y1="300.90" x2="1199.10" y2="300.90" stroke="#222222" stroke-width="1.4" />
<text x="1197.90" y="308.50" font-size="30" text-anchor="end" >0</text>
<line x1="1204.90" y1="273.40" x2="1199.10" y2="273.40" stroke="#222222" stroke-width="1.4" />
<text x="1197.90" y="281.00" font-size="30" text-anchor="end" >0.5</text>
<line x1="1204.90" y1="245.90" x2="1199.10" y2="245.90" stroke="#222222" stroke-width="1.4" />
<text x="1197.90" y="253.50" font-size="30" text-anchor="end" >1.0</text>
<line x1="1204.90" y1="218.40" x2="1199.10" y2="218.40" stroke="#222222" stroke-width="1.4" />
<text x="1197.90" y="226.00" font-size="30" text-anchor="end" >1.5</text>
<line x1="1207.05" y1="300.90" x2="1207.05" y2="304.20" stroke="#222222" stroke-width="1" />
<line x1="1209.37" y1="300.90" x2="1209.37" y2="304.20" stroke="#222222" stroke-width="1" />
<line x1="1211.68" y1="300.90" x2="1211.68" y2="304.20" stroke="#222222" stroke-width="1" />
<line x1="1214.00" y1="300.90" x2="1214.00" y2="306.70" stroke="#222222" stroke-width="1.4" />
<line x1="1216.32" y1="300.90" x2="1216.32" y2="304.20" stroke="#222222" stroke-width="1" />
<line x1="1218.63" y1="300.90" x2="1218.63" y2="304.20" stroke="#222222" stroke-width="1" />
<line x1="1220.95" y1="300.90" x2="1220.95" y2="304.20" stroke="#222222" stroke-width="1" />
<line x1="1223.27" y1="300.90" x2="1223.27" y2="304.20" stroke="#222222" stroke-width="1" />
<line x1="1225.59" y1="300.90" x2="1225.59" y2="304.20" stroke="#222222" stroke-width="1" />
<line x1="1227.90" y1="300.90" x2="1227.90" y2="304.20" stroke="#222222" stroke-width="1" />
<line x1="1230.22" y1="300.90" x2="1230.22" y2="304.20" stroke="#222222" stroke-width="1" />
<line x1="1232.54" y1="300.90" x2="1232.54" y2="306.70" stroke="#222222" stroke-width="1.4" />
<line x1="1234.86" y1="300.90" x2="1234.86" y2="304.20" stroke="#222222" stroke-width="1" />
<line x1="1237.17" y1="300.90" x2="1237.17" y2="304.20" stroke="#222222" stroke-width="1" />
<line x1="1239.49" y1="300.90" x2="1239.49" y2="304.20" stroke="#222222" stroke-width="1" />
<line x1="1241.81" y1="300.90" x2="1241.81" y2="304.20" stroke="#222222" stroke-width="1" />
<line x1="1244.13" y1="300.90" x2="1244.13" y2="304.20" stroke="#222222" stroke-width="1" />
<line x1="1246.44" y1="300.90" x2="1246.44" y2="304.20" stroke="#222222" stroke-width="1" />
<line x1="1248.76" y1="300.90" x2="1248.76" y2="304.20" stroke="#222222" stroke-width="1" />
<line x1="1251.08" y1="300.90" x2="1251.08" y2="306.70" stroke="#222222" stroke-width="1.4" />
<line x1="1253.40" y1="300.90" x2="1253.40" y2="304.20" stroke="#222222" stroke-width="1" />
<line x1="1255.71" y1="300.90" x2="1255.71" y2="304.20" stroke="#222222" stroke-width="1" />
<line x1="1258.03" y1="300.90" x2="1258.03" y2="304.20" stroke="#222222" stroke-width="1" />
<line x1="1260.35" y1="300.90" x2="1260.35" y2="304.20" stroke="#222222" stroke-width="1" />
<line x1="1262.67" y1="300.90" x2="1262.67" y2="304.20" stroke="#222222" stroke-width="1" />
<line x1="1264.98" y1="300.90" x2="1264.98" y2="304.20" stroke="#222222" stroke-width="1" />
<line x1="1267.30" y1="300.90" x2="1267.30" y2="304.20" stroke="#222222" stroke-width="1" />
<line x1="1269.62" y1="300.90" x2="1269.62" y2="306.70" stroke="#222222" stroke-width="1.4" />
<line x1="1271.94" y1="300.90" x2="1271.94" y2="304.20" stroke="#222222" stroke-width="1" />
<line x1="1274.26" y1="300.90" x2="1274.26" y2="304.20" stroke="#222222" stroke-width="1" />
<line x1="1276.57" y1="300.90" x2="1276.57" y2="304.20" stroke="#222222" stroke-width="1" />
<line x1="1278.89" y1="300.90" x2="1278.89" y2="304.20" stroke="#222222" stroke-width="1" />
<line x1="1281.21" y1="300.90" x2="1281.21" y2="304.20" stroke="#222222" stroke-width="1" />
<line x1="1283.53" y1="300.90" x2="1283.53" y2="304.20" stroke="#222222" stroke-width="1" />
<line x1="1285.84" y1="300.90" x2="1285.84" y2="304.20" stroke="#222222" stroke-width="1" />
<line x1="1288.16" y1="300.90" x2="1288.16" y2="306.70" stroke="#222222" stroke-width="1.4" />
<line x1="1290.48" y1="300.90" x2="1290.48" y2="304.20" stroke="#222222" stroke-width="1" />
<line x1="1292.80" y1="300.90" x2="1292.80" y2="304.20" stroke="#222222" stroke-width="1" />
<line x1="1295.11" y1="300.90" x2="1295.11" y2="304.20" stroke="#222222" stroke-width="1" />
<line x1="1297.43" y1="300.90" x2="1297.43" y2="304.20" stroke="#222222" stroke-width="1" />
<line x1="1299.75" y1="300.90" x2="1299.75" y2="304.20" stroke="#222222" stroke-width="1" />
<line x1="1302.07" y1="300.90" x2="1302.07" y2="304.20" stroke="#222222" stroke-width="1" />
<line x1="1304.38" y1="300.90" x2="1304.38" y2="304.20" stroke="#222222" stroke-width="1" />
<line x1="1306.70" y1="300.90" x2="1306.70" y2="306.70" stroke="#222222" stroke-width="1.4" />
<line x1="1309.02" y1="300.90" x2="1309.02" y2="304.20" stroke="#222222" stroke-width="1" />
<line x1="1311.34" y1="300.90" x2="1311.34" y2="304.20" stroke="#222222" stroke-width="1" />
<line x1="1313.65" y1="300.90" x2="1313.65" y2="304.20" stroke="#222222" stroke-width="1" />
<line x1="1315.97" y1="300.90" x2="1315.97" y2="304.20" stroke="#222222" stroke-width="1" />
<line x1="1318.29" y1="300.90" x2="1318.29" y2="304.20" stroke="#222222" stroke-width="1" />
<line x1="1320.61" y1="300.90" x2="1320.61" y2="304.20" stroke="#222222" stroke-width="1" />
<line x1="1322.92" y1="300.90" x2="1322.92" y2="304.20" stroke="#222222" stroke-width="1" />
<line x1="1325.24" y1="300.90" x2="1325.24" y2="306.70" stroke="#222222" stroke-width="1.4" />
<line x1="1327.56" y1="300.90" x2="1327.56" y2="304.20" stroke="#222222" stroke-width="1" />
<line x1="1329.88" y1="300.90" x2="1329.88" y2="304.20" stroke="#222222" stroke-width="1" />
<line x1="1332.19" y1="300.90" x2="1332.19" y2="304.20" stroke="#222222" stroke-width="1" />
<line x1="1334.51" y1="300.90" x2="1334.51" y2="304.20" stroke="#222222" stroke-width="1" />
<line x1="1336.83" y1="300.90" x2="1336.83" y2="304.20" stroke="#222222" stroke-width="1" />
<line x1="1339.14" y1="300.90" x2="1339.14" y2="304.20" stroke="#222222" stroke-width="1" />
<line x1="1341.46" y1="300.90" x2="1341.46" y2="304.20" stroke="#222222" stroke-width="1" />
<line x1="1343.78" y1="300.90" x2="1343.78" y2="306.70" stroke="#222222" stroke-width="1.4" />
<line x1="1346.10" y1="300.90" x2="1346.10" y2="304.20" stroke="#222222" stroke-width="1" />
<line x1="1348.41" y1="300.90" x2="1348.41" y2="304.20" stroke="#222222" stroke-width="1" />
<line x1="1350.73" y1="300.90" x2="1350.73" y2="304.20" stroke="#222222" stroke-width="1" />
<line x1="1353.05" y1="300.90" x2="1353.05" y2="304.20" stroke="#222222" stroke-width="1" />
<g clip-path="url(#cp1204)">
<circle cx="1208.70" cy="196.60" r="5.8" fill="#000"/>
<circle cx="1217.70" cy="200.80" r="5.8" fill="#000"/>
<circle cx="1203.40" cy="207.70" r="5.8" fill="#000"/>
<circle cx="1265.50" cy="197.60" r="5.8" fill="#000"/>
<circle cx="1276.00" cy="199.70" r="5.8" fill="#000"/>
<circle cx="1209.70" cy="227.10" r="5.8" fill="#000"/>
<circle cx="1208.70" cy="236.50" r="5.8" fill="#000"/>
<circle cx="1218.10" cy="236.50" r="5.8" fill="#000"/>
<circle cx="1227.20" cy="221.40" r="5.8" fill="#000"/>
<circle cx="1230.30" cy="225.00" r="5.8" fill="#000"/>
<circle cx="1228.70" cy="232.30" r="5.8" fill="#000"/>
<circle cx="1229.70" cy="238.60" r="5.8" fill="#000"/>
<circle cx="1255.60" cy="220.30" r="5.8" fill="#000"/>
<circle cx="1255.00" cy="227.10" r="5.8" fill="#000"/>
<circle cx="1256.00" cy="234.40" r="5.8" fill="#000"/>
<circle cx="1256.60" cy="241.40" r="5.8" fill="#000"/>
<circle cx="1263.40" cy="218.70" r="5.8" fill="#000"/>
<circle cx="1268.20" cy="216.60" r="5.8" fill="#000"/>
<circle cx="1266.50" cy="225.00" r="5.8" fill="#000"/>
<circle cx="1274.50" cy="215.10" r="5.8" fill="#000"/>
<circle cx="1274.90" cy="222.40" r="5.8" fill="#000"/>
<circle cx="1293.90" cy="219.70" r="5.8" fill="#000"/>
<circle cx="1294.90" cy="225.00" r="5.8" fill="#000"/>
<circle cx="1320.20" cy="225.00" r="5.8" fill="#000"/>
<circle cx="1319.60" cy="233.00" r="5.8" fill="#000"/>
<circle cx="1329.00" cy="227.70" r="5.8" fill="#000"/>
<circle cx="1330.70" cy="234.40" r="5.8" fill="#000"/>
<circle cx="1331.80" cy="240.10" r="5.8" fill="#000"/>
<circle cx="1331.10" cy="261.20" r="5.8" fill="#000"/>
</g>
<rect x="1204.90" y="196.40" width="148.50" height="104.50" fill="none" stroke="#222222" stroke-width="1.5"/>
<text x="1145.50" y="258.00" font-size="29" text-anchor="middle" font-style="italic" >K</text>
</svg>
</body></html>
